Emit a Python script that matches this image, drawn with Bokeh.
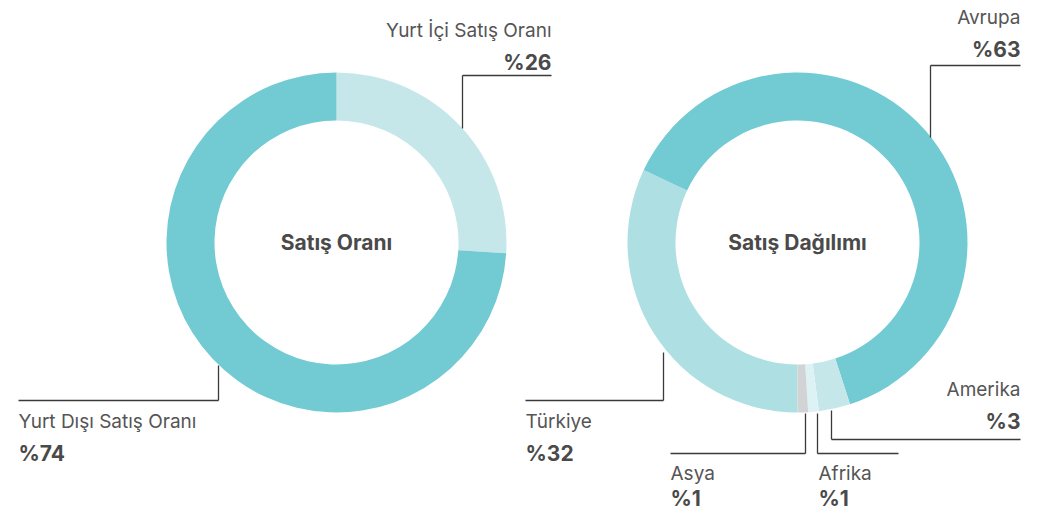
import math
from bokeh.plotting import figure
from bokeh.models import Range1d
from bokeh.core.properties import value
from bokeh.embed import file_html
from bokeh.resources import INLINE

# ---- data ----
left_labels = ["Yurt İçi Satış Oranı", "Yurt Dışı Satış Oranı"]
left_values = [26, 74]
left_colors = ["#C6E7EA", "#72CBD3"]
left_title = "Satış Oranı"

right_labels = ["Türkiye", "Avrupa", "Amerika", "Afrika", "Asya"]
right_values = [32, 63, 3, 1, 1]
right_colors = ["#ADDFE3", "#72CBD3", "#C6E7EA", "#DDF2F4", "#D2D3D4"]
right_title = "Satış Dağılımı"

W, H = 1026, 514
FONT = "Inter"
TXT = "#555555"
BOLD = "#4a4a4a"
LINE = "#3a3a3a"

p = figure(width=W, height=H, output_backend="svg", toolbar_location=None,
           x_range=Range1d(0, W), y_range=Range1d(0, H),
           min_border=0)
p.axis.visible = False
p.grid.visible = False
p.outline_line_color = None
p.background_fill_color = "white"


def Y(wy):
    return H - wy


def donut(cx, cy, values, colors, start_cw_deg, r_in=122, r_out=170):
    total = float(sum(values))
    starts, ends = [], []
    acc = start_cw_deg
    for v in values:
        a0 = acc
        a1 = acc + v / total * 360.0
        # clockwise-from-top -> bokeh ccw-from-x
        starts.append(math.radians(90 - a1))
        ends.append(math.radians(90 - a0))
        acc = a1
    p.annular_wedge(x=[cx] * len(values), y=[Y(cy)] * len(values),
                    inner_radius=r_in, outer_radius=r_out,
                    start_angle=starts, end_angle=ends,
                    fill_color=colors, line_color=None)


donut(336, 242, left_values, left_colors, 0)
donut(797, 242, right_values, right_colors, 180)


def center_text(x, y, t):
    p.text(x=[x], y=[Y(y)], text=[t], text_font=value(FONT), text_font_style="bold",
           text_font_size="21px", text_color=BOLD, text_align="center", text_baseline="middle")


center_text(336, 242, left_title)
center_text(797, 242, right_title)


def label(x, y1, name, pct, align, gap=32):
    p.text(x=[x], y=[Y(y1)], text=[name], text_font=value(FONT),
           text_font_size="19px", text_color=TXT, text_align=align, text_baseline="middle")
    p.text(x=[x], y=[Y(y1 + gap)], text=[pct], text_font=value(FONT), text_font_style="bold",
           text_font_size="21px", text_color=BOLD, text_align=align, text_baseline="middle")


def leader(hx0, hx1, hy, vx, vy):
    p.line(x=[hx0, hx1], y=[Y(hy), Y(hy)], line_color=LINE, line_width=1.3)
    p.line(x=[vx, vx], y=[Y(hy), Y(vy)], line_color=LINE, line_width=1.3)


# left donut labels
label(551, 30, left_labels[0], "%" + str(left_values[0]), "right")
leader(462, 551, 75, 462, 128)
label(18, 421, left_labels[1], "%" + str(left_values[1]), "left")
leader(18, 218, 400, 218, 365)

# right donut labels
label(1020, 17, right_labels[1], "%" + str(right_values[1]), "right")
leader(930, 1020, 65, 930, 137)
label(1020, 389, right_labels[2], "%" + str(right_values[2]), "right")
leader(831, 1020, 439, 831, 410)
label(525, 421, right_labels[0], "%" + str(right_values[0]), "left")
leader(525, 663, 400, 663, 352)
label(670, 473, right_labels[4], "%" + str(right_values[4]), "left", gap=25)
leader(670, 805, 453, 805, 413)
label(818, 473, right_labels[3], "%" + str(right_values[3]), "left", gap=25)
leader(817, 898, 453, 817, 413)

open("out.html", "w").write(file_html(p, INLINE))
